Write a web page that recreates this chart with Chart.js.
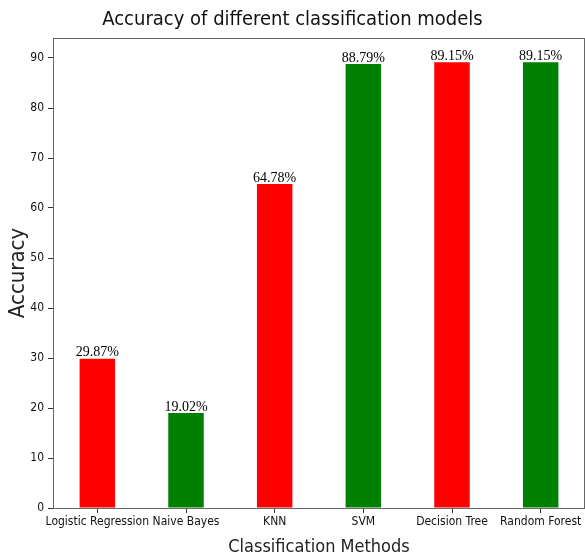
<!DOCTYPE html>
<html>
<head>
    <meta charset="utf-8">
    <title>Accuracy of different classification models</title>
    <script src="https://cdn.jsdelivr.net/npm/chart.js@4/dist/chart.umd.min.js"></script>
    <style>
        body { margin: 0; background: #fff; }
        #wrap { width: 585px; height: 558px; }
    </style>
</head>
<body>
    <div id="wrap"><canvas id="c1" width="585" height="558"></canvas></div>
    <script>
        var models = ["Logistic Regression", "Naive Bayes", "KNN", "SVM", "Decision Tree", "Random Forest"];
        var accuracy = [29.87, 19.02, 64.78, 88.79, 89.15, 89.15];
        var barColors = ["#ff0000", "#008000", "#ff0000", "#008000", "#ff0000", "#008000"];
        var yTicks = [0, 10, 20, 30, 40, 50, 60, 70, 80, 90];

        var narrow = "'DejaVu Sans Condensed', 'Liberation Sans Narrow', 'DejaVu Sans', sans-serif";

        // value labels on top of bars + box around the plot
        var extras = {
            id: "extras",
            afterDatasetsDraw: function(chart) {
                var ctx = chart.ctx;
                var meta = chart.getDatasetMeta(0);
                ctx.save();
                ctx.font = "14px 'Liberation Serif', 'DejaVu Serif', serif";
                ctx.fillStyle = "#000";
                ctx.textAlign = "center";
                ctx.textBaseline = "bottom";
                meta.data.forEach(function(bar, i) {
                    ctx.fillText(accuracy[i].toFixed(2) + "%", bar.x, bar.y + 1);
                });
                var a = chart.chartArea;
                ctx.strokeStyle = "#666";
                ctx.lineWidth = 1;
                ctx.strokeRect(a.left + 0.5, a.top + 0.5, a.right - a.left - 1, a.bottom - a.top);
                ctx.restore();
            }
        };

        new Chart(document.getElementById("c1"), {
            type: "bar",
            data: {
                labels: models,
                datasets: [{
                    data: accuracy,
                    backgroundColor: barColors,
                    barPercentage: 0.4,
                    categoryPercentage: 1
                }]
            },
            options: {
                responsive: false,
                animation: false,
                layout: { padding: { top: 0, right: 0, left: 0, bottom: 0 } },
                plugins: {
                    legend: { display: false },
                    tooltip: { enabled: false },
                    title: {
                        display: true,
                        text: "Accuracy of different classification models",
                        color: "#111",
                        font: { family: narrow, size: 20, weight: "normal" },
                        padding: { top: 8, bottom: 6 }
                    }
                },
                scales: {
                    x: {
                        grid: { display: true, drawOnChartArea: false, offset: false, tickLength: 5, color: "#333" },
                        border: { display: false },
                        ticks: { color: "#111", font: { family: narrow, size: 12 }, padding: 2, maxRotation: 0, autoSkip: false },
                        title: { display: true, text: "Classification Methods", color: "#222", font: { family: narrow, size: 18 }, padding: 0 },
                        afterFit: function(axis) { axis.height = 50; }
                    },
                    y: {
                        min: 0,
                        max: 94,
                        grid: { display: true, drawOnChartArea: false, tickLength: 5, color: "#333" },
                        border: { display: false },
                        afterBuildTicks: function(axis) {
                            axis.ticks = yTicks.map(function(v) { return { value: v }; });
                        },
                        ticks: { color: "#111", font: { family: narrow, size: 12 }, padding: 4 },
                        title: { display: true, text: "Accuracy", color: "#222", font: { family: narrow, size: 22 }, padding: { top: 5, bottom: 0 } },
                        afterFit: function(axis) { axis.width = 53; }
                    }
                }
            },
            plugins: [extras]
        });
    </script>
</body>
</html>
